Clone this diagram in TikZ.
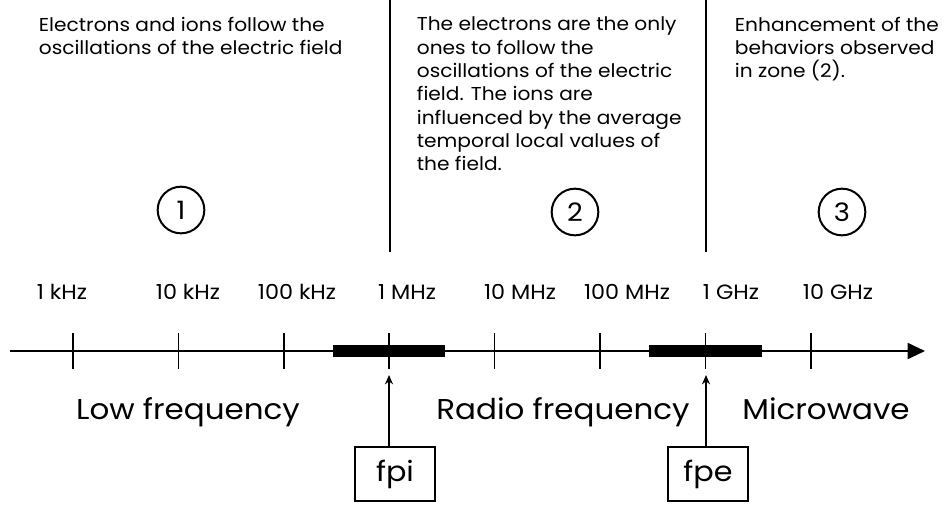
\documentclass[tikz,border=0pt]{standalone}
\usepackage{fontspec}
\setmainfont[FakeStretch=1.08]{Poppins}
\usetikzlibrary{arrows.meta}
\tikzset{
  zonetext/.style={anchor=north west, align=left, inner sep=0pt, font=\fontsize{14}{17.5}\selectfont},
  zonenum/.style={draw, circle, line width=1.5pt, minimum size=35pt, inner sep=0pt, font=\fontsize{19}{19}\selectfont},
  freqlabel/.style={anchor=base, font=\fontsize{15.5}{17}\selectfont},
  bandlabel/.style={anchor=base, font=\fontsize{21.5}{24}\selectfont},
  plasmabox/.style={draw, line width=1.5pt, minimum width=60pt, minimum height=40pt, font=\fontsize{21}{24}\selectfont}
}
\begin{document}
\begin{tikzpicture}[x=0.75pt, y=-0.75pt, >={Stealth[length=7pt,width=6pt]}, line width=1.3pt]
\useasboundingbox (0,0) rectangle (950,504);
% zone descriptions
\node[zonetext] (z1) at (38,16) {Electrons and ions follow the\\oscillations of the electric field};
\node[zonetext] (z2) at (416,16) {The electrons are the only\\ones to follow the\\oscillations of the electric\\field. The ions are\\influenced by the average\\temporal local values of\\the field.};
\node[zonetext] (z3) at (734,16) {Enhancement of the\\behaviors observed\\in zone (2).};
\draw[line width=1.6pt] (390,0) -- (390,252);
\draw[line width=1.6pt] (706,0) -- (706,252);
\node[zonenum] (n1) at (181,210) {1};
\node[zonenum] (n2) at (575,212) {2};
\node[zonenum] (n3) at (842,212) {3};
% frequency axis
\draw[line width=1.4pt, -{Triangle[length=13pt,width=12pt]}] (10,351) -- (925,351);
\foreach \i in {0,...,7}
  \draw (73+105.4*\i,333) -- ++(0,36);
\fill (333,345) rectangle (445,357);
\fill (649,345) rectangle (762,357);
\foreach \x/\t in {62/1 kHz, 188/10 kHz, 297/100 kHz, 407/1 MHz, 520/10 MHz, 627/100 MHz, 731/1 GHz, 838/10 GHz}
  \node[freqlabel] at (\x,299) {\t};
\node[bandlabel] (lf) at (188,419) {Low frequency};
\node[bandlabel] (rf) at (563,419) {Radio frequency};
\node[bandlabel] (mw) at (826,419) {Microwave};
% plasma frequencies
\node[plasmabox] (fpi) at (395,474) {fpi};
\node[plasmabox] (fpe) at (708,474) {fpe};
\coordinate (ai) at (389,375);
\coordinate (ae) at (706,375);
\draw[->] (fpi.north -| ai) -- (ai);
\draw[->] (fpe.north -| ae) -- (ae);
\end{tikzpicture}
\end{document}
